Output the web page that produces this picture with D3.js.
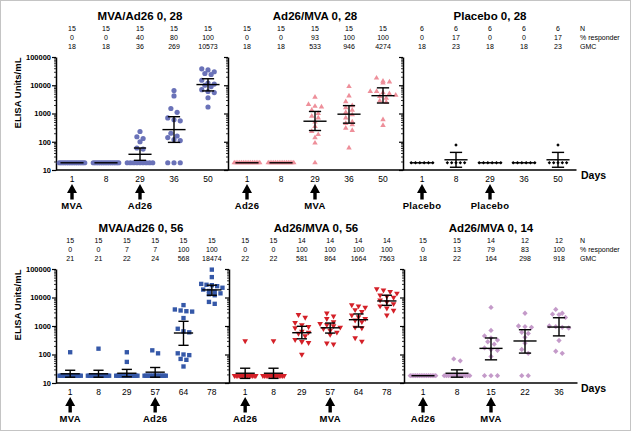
<!DOCTYPE html>
<html><head><meta charset="utf-8">
<script src="https://cdn.jsdelivr.net/npm/d3@7"></script>
<style>body{margin:0;background:#fff}svg{display:block;font-family:"Liberation Sans",Arial,sans-serif}</style>
</head><body><svg id="c" width="632" height="432"></svg>
<script>
// ---------- DATA ----------
const rowLabels = ["N", "% responder", "GMC"];
const yTickValues = [10, 100, 1000, 10000, 100000];

// Panel 1: MVA/Ad26 0, 28
const titleA = "MVA/Ad26 0, 28";
const daysA = ["1", "8", "29", "36", "50"];
const nA = [15, 15, 15, 15, 15];
const respA = [0, 0, 40, 80, 100];
const gmcA = [18, 18, 36, 269, 10573];
const ciLoA = [null, null, 22, 95, 6300];
const ciHiA = [null, null, 60, 770, 17000];
const valsA = [
  [18,18,18,18,18,18,18,18,18,18,18,18,18,18,18],
  [18,18,18,18,18,18,18,18,18,18,18,18,18,18,18],
  [230,150,130,100,60,55,18,18,18,18,18,18,18,18,18],
  [6500,4200,1500,1100,700,600,550,200,160,140,120,110,18,18,18],
  [38000,35000,30000,26000,24000,15000,12000,11000,10000,9000,7000,6000,5500,3600,1700]
];
const arrowDaysA = ["1", "29"];
const arrowLabelsA = ["MVA", "Ad26"];

// Panel 2: Ad26/MVA 0, 28
const titleB = "Ad26/MVA 0, 28";
const daysB = ["1", "8", "29", "36", "50"];
const nB = [15, 15, 15, 15, 15];
const respB = [0, 0, 93, 100, 100];
const gmcB = [18, 18, 533, 946, 4274];
const ciLoB = [null, null, 250, 455, 2350];
const ciHiB = [null, null, 1180, 1900, 8100];
const valsB = [
  [18,18,18,18,18,18,18,18,18,18,18,18,18,18,18],
  [18,18,18,18,18,18,18,18,18,18,18,18,18,18,18],
  [3800,2100,1800,1700,1300,1000,800,700,500,350,230,180,140,90,18],
  [9000,4200,2600,1900,1600,1300,1100,900,700,500,450,400,300,250,60],
  [18000,14000,13000,12000,6000,6000,5500,5000,4500,4000,3500,2800,2500,600,380]
];
const arrowDaysB = ["1", "29"];
const arrowLabelsB = ["Ad26", "MVA"];

// Panel 3: Placebo 0, 28
const titleC = "Placebo 0, 28";
const daysC = ["1", "8", "29", "36", "50"];
const nC = [6, 6, 6, 6, 6];
const respC = [0, 17, 0, 0, 17];
const gmcC = [18, 23, 18, 18, 23];
const ciLoC = [null, 12.5, null, null, 12.5];
const ciHiC = [null, 42, null, null, 42];
const valsC = [
  [18,18,18,18,18,18],
  [77,18,18,18,18,18],
  [18,18,18,18,18,18],
  [18,18,18,18,18,18],
  [77,18,18,18,18,18]
];
const arrowDaysC = ["1", "29"];
const arrowLabelsC = ["Placebo", "Placebo"];

// Panel 4: MVA/Ad26 0, 56
const titleD = "MVA/Ad26 0, 56";
const daysD = ["1", "8", "29", "57", "64", "78"];
const nD = [15, 15, 15, 15, 15, 15];
const respD = [0, 0, 7, 7, 100, 100];
const gmcD = [21, 21, 22, 24, 568, 18474];
const ciLoD = [16, 16, 16.5, 16, 210, 12000];
const ciHiD = [28, 28, 30, 35, 1460, 27000];
const valsD = [
  [120,18,18,18,18,18,18,18,18,18,18,18,18,18,18],
  [160,18,18,18,18,18,18,18,18,18,18,18,18,18,18],
  [120,55,18,18,18,18,18,18,18,18,18,18,18,18,18],
  [140,110,18,18,18,18,18,18,18,18,18,18,18,18,18],
  [5400,3800,3500,3300,3200,1900,800,650,600,110,100,95,70,65,38],
  [95000,52000,30000,28000,27000,25000,22000,19000,17000,16000,14000,13000,12000,7000,6000]
];
const arrowDaysD = ["1", "57"];
const arrowLabelsD = ["MVA", "Ad26"];

// Panel 5: Ad26/MVA 0, 56
const titleE = "Ad26/MVA 0, 56";
const daysE = ["1", "8", "29", "57", "64", "78"];
const nE = [15, 15, 14, 14, 14, 14];
const respE = [0, 0, 100, 100, 100, 100];
const gmcE = [22, 22, 581, 864, 1664, 7563];
const ciLoE = [14.5, 14.5, 355, 565, 920, 5300];
const ciHiE = [33, 33, 975, 1270, 2650, 12000];
const valsE = [
  [300,18,18,18,18,18,18,18,18,18,18,18,18,18,18],
  [300,18,18,18,18,18,18,18,18,18,18,18,18,18,18],
  [2500,2000,1300,1100,950,850,650,600,550,450,330,280,260,100],
  [2800,2200,1800,1400,1200,1100,1000,900,800,700,600,500,250,230],
  [5500,5000,4500,3700,3200,2400,2100,1800,1600,1400,900,850,380,290],
  [20000,18000,16000,14000,12000,11000,10000,8000,7000,6000,5000,4200,3500,2400]
];
const arrowDaysE = ["1", "57"];
const arrowLabelsE = ["Ad26", "MVA"];

// Panel 6: Ad26/MVA 0, 14
const titleF = "Ad26/MVA 0, 14";
const daysF = ["1", "8", "15", "22", "36"];
const nF = [15, 15, 14, 12, 12];
const respF = [0, 13, 79, 83, 100];
const gmcF = [18, 22, 164, 298, 918];
const ciLoF = [null, 16, 65, 112, 450];
const ciHiF = [null, 29, 380, 740, 1950];
const valsF = [
  [18,18,18,18,18,18,18,18,18,18,18,18,18,18,18],
  [70,60,18,18,18,18,18,18,18,18,18,18,18,18,18],
  [4500,700,450,380,320,280,230,170,150,140,85,18,18,18],
  [2800,1000,950,900,600,550,400,250,150,110,18,18],
  [3800,2800,2600,2500,2000,1000,950,900,850,310,130,110]
];
const arrowDaysF = ["1", "15"];
const arrowLabelsF = ["Ad26", "MVA"];

// ---------- LAYOUT / STYLE ----------
const svg = d3.select("#c");
svg.append("rect").attr("x", 0.5).attr("y", 0.5).attr("width", 630).attr("height", 430)
  .attr("fill", "#fff").attr("stroke", "#c4c4c4");

const rows = [{axisY: 170, topY: 57}, {axisY: 383, topY: 269}];

const panels = [
  {row:0, axisX:56, range:[55,225], labels:true, title:titleA, days:daysA, n:nA, resp:respA, gmc:gmcA, lo:ciLoA, hi:ciHiA, vals:valsA, aDays:arrowDaysA, aLabels:arrowLabelsA,
   sym:d3.symbolCircle, size:21, rot:0, w:5.2, color:"#6a72b8"},
  {row:0, axisX:228, range:[230,400], labels:false, title:titleB, days:daysB, n:nB, resp:respB, gmc:gmcB, lo:ciLoB, hi:ciHiB, vals:valsB, aDays:arrowDaysB, aLabels:arrowLabelsB,
   sym:d3.symbolTriangle, size:13, rot:0, w:5.4, color:"#ee8f9a"},
  {row:0, axisX:403, range:[405,575], labels:false, title:titleC, days:daysC, n:nC, resp:respC, gmc:gmcC, lo:ciLoC, hi:ciHiC, vals:valsC, aDays:arrowDaysC, aLabels:arrowLabelsC,
   sym:d3.symbolSquare, size:6, rot:45, w:3.6, color:"#000"},
  {row:1, axisX:56, range:[56,226], labels:true, title:titleD, days:daysD, n:nD, resp:respD, gmc:gmcD, lo:ciLoD, hi:ciHiD, vals:valsD, aDays:arrowDaysD, aLabels:arrowLabelsD,
   sym:d3.symbolSquare, size:19, rot:0, w:4.8, color:"#3558a8"},
  {row:1, axisX:229, range:[231,401], labels:false, title:titleE, days:daysE, n:nE, resp:respE, gmc:gmcE, lo:ciLoE, hi:ciHiE, vals:valsE, aDays:arrowDaysE, aLabels:arrowLabelsE,
   sym:d3.symbolTriangle, size:14, rot:180, w:5.6, color:"#d42028"},
  {row:1, axisX:404, range:[406,576], labels:false, title:titleF, days:daysF, n:nF, resp:respF, gmc:gmcF, lo:ciLoF, hi:ciHiF, vals:valsF, aDays:arrowDaysF, aLabels:arrowLabelsF,
   sym:d3.symbolSquare, size:14, rot:45, w:5.4, color:"#c49ac9"}
];

const minorTicks = [];
yTickValues.slice(0, -1).forEach(d => { for (let k = 2; k <= 9; k++) minorTicks.push(d * k); });

// x-axis lines & row side labels
rows.forEach((r, ri) => {
  const ps = panels.filter(p => p.row === ri);
  svg.append("line").attr("x1", ps[0].axisX).attr("x2", ps[ps.length-1].range[1] + 1.5)
    .attr("y1", r.axisY).attr("y2", r.axisY).attr("stroke", "#000").attr("stroke-width", 1.5);
  svg.append("text").attr("x", 581).attr("y", r.axisY + 5).attr("dy", "0.35em")
    .attr("font-size", 10.5).attr("font-weight", "bold").text("Days");
  rowLabels.forEach((t, i) => {
    svg.append("text").attr("x", 580).attr("y", r.topY - 28 + 9 * i).attr("dy", "0.35em")
      .attr("font-size", 7).text(t);
  });
  svg.append("text").attr("transform", `translate(18,${r.topY + 36}) rotate(-90)`)
    .attr("text-anchor", "middle").attr("dy", "0.35em")
    .attr("font-size", 9.5).attr("font-weight", "bold").text("ELISA Units/mL");
});

panels.forEach(p => {
  const r = rows[p.row];
  const y = d3.scaleLog().domain([10, 100000]).range([r.axisY, r.topY]);
  const x = d3.scaleBand().domain(p.days).range(p.range);
  const step = x.step();
  const cx = d => x(d) + x.bandwidth() / 2;
  const g = svg.append("g");

  // y axis
  g.append("g").attr("transform", `translate(${p.axisX},0)`)
    .call(d3.axisLeft(y).tickValues(minorTicks).tickSize(2).tickSizeOuter(0).tickFormat(""))
    .call(s => s.select(".domain").remove())
    .call(s => s.selectAll("line").attr("stroke", "#000").attr("stroke-width", 0.8));
  const ax = g.append("g").attr("transform", `translate(${p.axisX},0)`)
    .call(d3.axisLeft(y).tickValues(yTickValues).tickSize(4).tickSizeOuter(0).tickPadding(1)
      .tickFormat(p.labels ? d3.format("d") : ""));
  ax.select(".domain").attr("stroke", "#000").attr("stroke-width", 1.5);
  ax.selectAll("line").attr("stroke", "#000").attr("stroke-width", 1.2);
  ax.selectAll("text").attr("font-size", 7.5).attr("font-weight", "bold").attr("font-family", "Liberation Sans, Arial, sans-serif");

  // title
  g.append("text").attr("x", d3.mean(p.range)).attr("y", r.topY - 41).attr("dy", "0.35em")
    .attr("text-anchor", "middle").attr("font-size", 11.5).attr("font-weight", "bold").text(p.title);

  // header numbers
  [p.n, p.resp, p.gmc].forEach((arr, i) => {
    g.selectAll(null).data(arr).join("text")
      .attr("x", (d, j) => cx(p.days[j])).attr("y", r.topY - 28 + 9 * i).attr("dy", "0.35em")
      .attr("text-anchor", "middle").attr("font-size", 7).text(d => d);
  });

  // category labels
  const xa = g.append("g").attr("transform", `translate(0,${r.axisY})`)
    .call(d3.axisBottom(x).tickSize(0).tickPadding(6));
  xa.select(".domain").remove();
  xa.selectAll("text").attr("font-size", 8.5).attr("font-family", "Liberation Sans, Arial, sans-serif");

  // points with row-based spreading
  const symbol = d3.symbol().type(p.sym).size(p.size);
  p.vals.forEach((vals, j) => {
    const c = cx(p.days[j]);
    const pts = vals.map(v => ({v, py: y(v)})).sort((a, b) => a.py - b.py);
    const groups = [];
    pts.forEach(pt => {
      const last = groups[groups.length - 1];
      if (last && Math.abs(pt.py - last[0].py) < p.w * 0.8) last.push(pt); else groups.push([pt]);
    });
    groups.forEach(grp => {
      const n = grp.length;
      const sp = n > 1 ? Math.min(p.w * 1.2, (step * 0.75) / (n - 1)) : 0;
      grp.forEach((pt, i) => { pt.px = c + (i - (n - 1) / 2) * sp; });
    });
    g.selectAll(null).data(pts).join("path")
      .attr("d", symbol)
      .attr("transform", d => `translate(${d.px},${d.py}) rotate(${p.rot})`)
      .attr("fill", p.color);
  });

  // geometric mean & 95% CI
  const bars = g.append("g").attr("stroke", "#000").attr("stroke-width", 1.4).attr("fill", "none");
  p.days.forEach((d, j) => {
    const c = cx(d);
    const mw = step * 0.34, cw = step * 0.18;
    bars.append("line").attr("x1", c - mw).attr("x2", c + mw).attr("y1", y(p.gmc[j])).attr("y2", y(p.gmc[j]));
    if (p.lo[j] != null) {
      bars.append("line").attr("x1", c).attr("x2", c).attr("y1", y(p.lo[j])).attr("y2", y(p.hi[j]));
      bars.append("line").attr("x1", c - cw).attr("x2", c + cw).attr("y1", y(p.lo[j])).attr("y2", y(p.lo[j]));
      bars.append("line").attr("x1", c - cw).attr("x2", c + cw).attr("y1", y(p.hi[j])).attr("y2", y(p.hi[j]));
    }
  });

  // vaccination arrows
  p.aDays.forEach((d, i) => {
    const c = cx(d), t = r.axisY + 14;
    g.append("path").attr("fill", "#000")
      .attr("d", `M${c},${t}L${c+5},${t+9}L${c+1.7},${t+9}L${c+1.7},${t+15.5}L${c-1.7},${t+15.5}L${c-1.7},${t+9}L${c-5},${t+9}Z`);
    g.append("text").attr("x", c).attr("y", r.axisY + 35.5).attr("dy", "0.35em")
      .attr("text-anchor", "middle").attr("font-size", 9.5).attr("font-weight", "bold")
      .attr("letter-spacing", 0.3).text(p.aLabels[i]);
  });
});
</script></body></html>
